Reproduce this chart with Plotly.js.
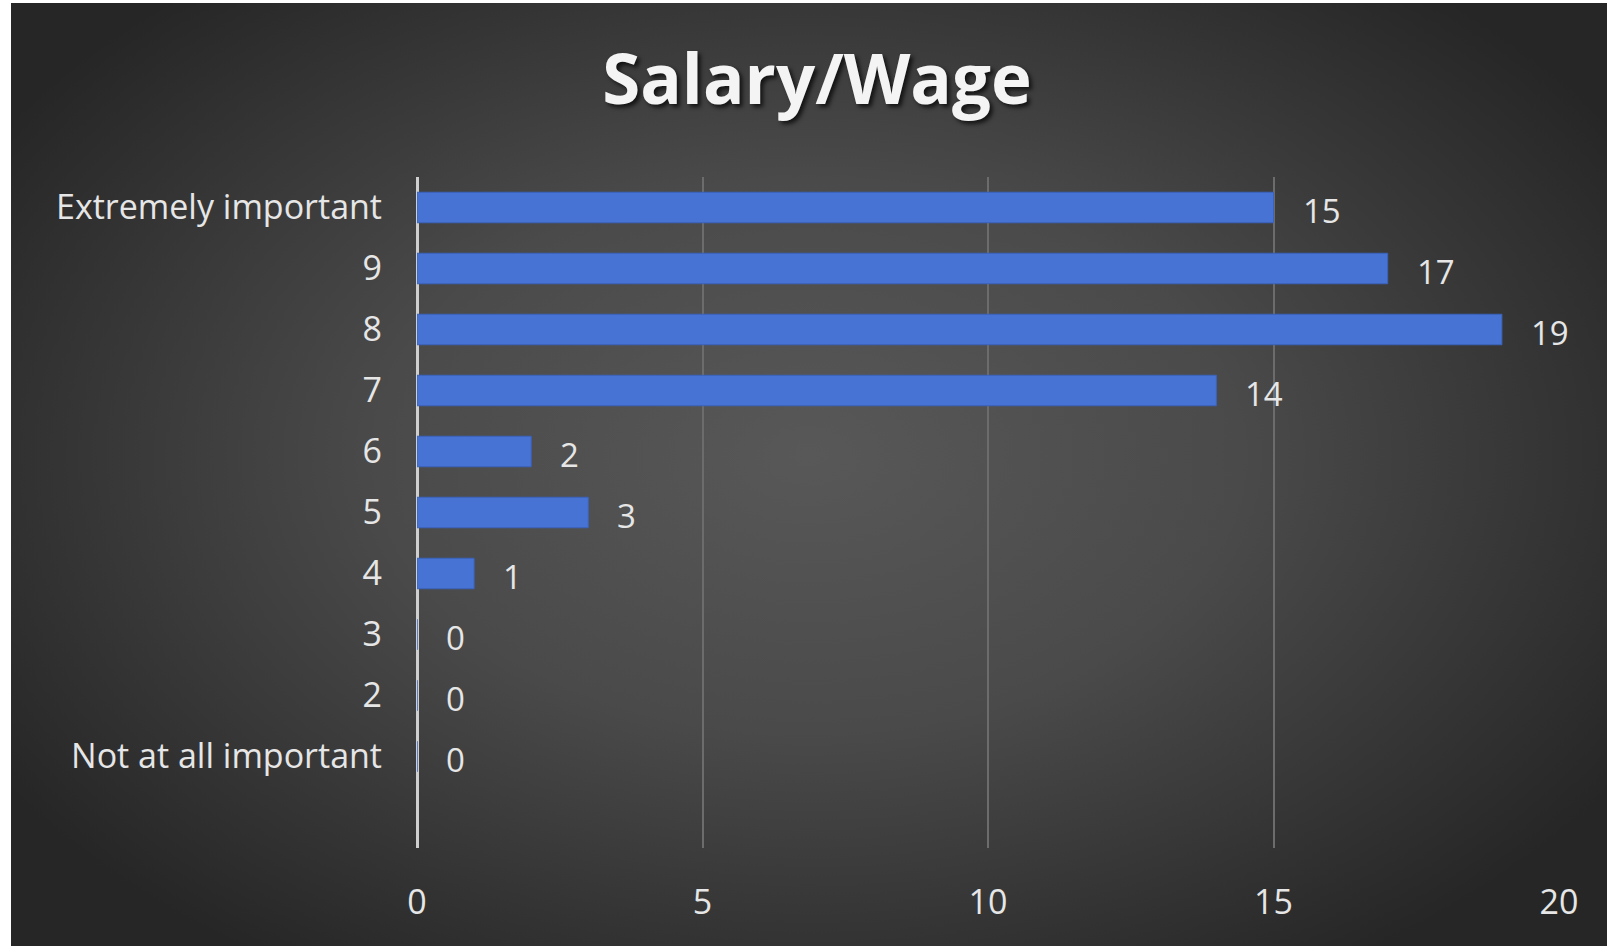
<!DOCTYPE html>
<html>
<head>
<meta charset="utf-8">
<script src="https://cdn.plot.ly/plotly-3.0.1.min.js"></script>
<style>
  html, body { margin: 0; padding: 0; background: #ffffff; width: 1607px; height: 946px; overflow: hidden; }
  #frame {
    position: absolute; left: 11px; top: 3px; width: 1596px; height: 943px;
    background: radial-gradient(ellipse 60% 65% at 50% 48%, #585858 0%, #4a4a4a 45%, #333333 80%, #262626 100%);
  }
  #chart { position: absolute; left: 0; top: 0; width: 1596px; height: 943px; }
</style>
</head>
<body>
<div id="frame"><div id="chart"></div></div>
<script>
// Data (bottom to top)
const categories = ["Not at all important", "2", "3", "4", "5", "6", "7", "8", "9", "Extremely important"];
const counts = [0, 0, 0, 1, 3, 2, 14, 19, 17, 15];
const xTicks = [0, 5, 10, 15, 20];
const chartTitle = "Salary/Wage";

const labelFont = { family: "Open Sans, sans-serif", size: 34, color: "#e6e6e6" };
const dataFont = { family: "Open Sans, sans-serif", size: 33, color: "#e6e6e6" };

const bars = {
  type: "bar",
  orientation: "h",
  x: counts,
  y: categories,
  width: 0.5,
  marker: { color: "#4673d4", line: { color: "#3a63bd", width: 1 } },
  hoverinfo: "x+y"
};

// positions on a category axis are the category indexes
const annotations = categories.map((c, i) => ({
  x: counts[i], y: i, xref: "x", yref: "y",
  text: String(counts[i]), showarrow: false,
  xanchor: "left", yanchor: "middle", xshift: 27, yshift: -3,
  font: dataFont
}));

const layout = {
  width: 1596, height: 943,
  paper_bgcolor: "rgba(0,0,0,0)",
  plot_bgcolor: "rgba(0,0,0,0)",
  margin: { l: 406, r: 48, t: 174, b: 98 },
  showlegend: false,
  title: {
    text: chartTitle,
    x: 0.505, xanchor: "center",
    y: 0.918, yanchor: "middle",
    font: { family: "Open Sans, sans-serif", size: 69, weight: 700, color: "#f4f4f4",
            shadow: "3px 3px 4px rgba(0,0,0,0.7)" }
  },
  xaxis: {
    range: [0, 20],
    tickvals: xTicks,
    ticktext: xTicks.map(String),
    showgrid: true, gridcolor: "#6c6c6c", gridwidth: 2,
    zeroline: true, zerolinecolor: "#cfcfcf", zerolinewidth: 2.5,
    showline: false, ticks: "",
    ticklabelstandoff: 31,
    tickfont: labelFont,
    fixedrange: true
  },
  yaxis: {
    type: "category",
    categoryorder: "array",
    categoryarray: categories,
    range: [-1.5, 9.5],
    showgrid: false, zeroline: false, showline: false, ticks: "",
    ticklabelstandoff: 34,
    tickfont: labelFont,
    fixedrange: true
  },
  annotations: annotations,
  bargap: 0.5
};

Plotly.newPlot("chart", [bars], layout, { displayModeBar: false });
</script>
</body>
</html>
